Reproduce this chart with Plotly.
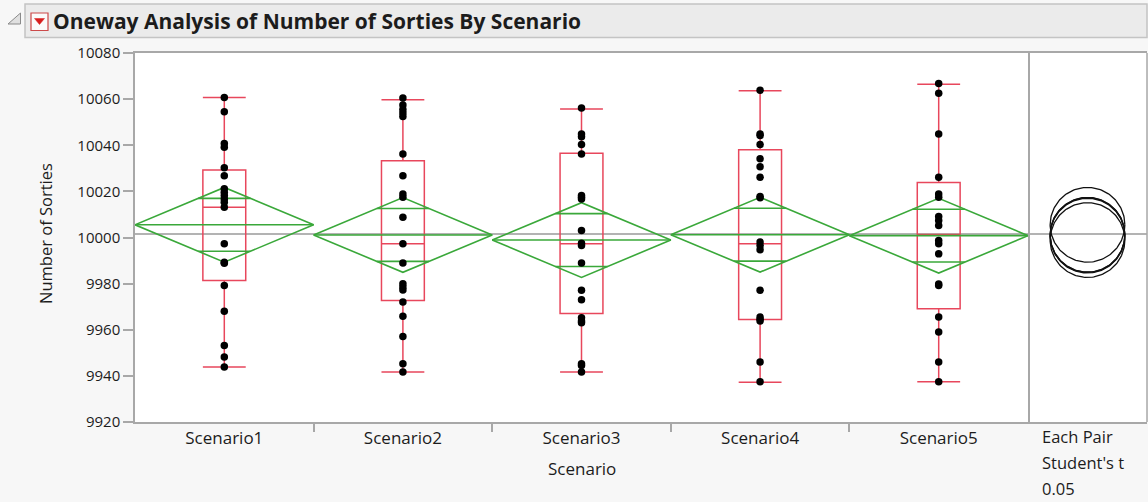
import numpy as np
import plotly.graph_objects as go

# ---------------- data ----------------
categories = ["Scenario1", "Scenario2", "Scenario3", "Scenario4", "Scenario5"]

s1 = [10060.7, 10054.5, 10040.8, 10039.1, 10030.2, 10026.8, 10021.1, 10019.6, 10018.2, 10016.7,
      10015.3, 10013.1, 9997.3, 9989.3, 9988.8, 9979.2, 9968.0, 9953.2, 9948.2, 9943.9]
s2 = [10060.5, 10057.5, 10055.5, 10054.0, 10052.5, 10036.2, 10026.8, 10018.9, 10017.5, 10008.8,
      9997.3, 9988.9, 9980.0, 9978.5, 9977.2, 9972.0, 9965.8, 9957.1, 9945.3, 9941.7]
s3 = [10056.1, 10044.9, 10043.7, 10040.3, 10036.2, 10018.2, 10017.5, 10016.7, 10003.0, 9997.5,
      9996.5, 9988.9, 9977.1, 9973.0, 9965.2, 9963.8, 9963.0, 9945.3, 9944.5, 9941.7]
s4 = [10063.9, 10044.9, 10044.2, 10040.3, 10034.1, 10030.7, 10026.1, 10017.8, 10017.2, 9998.0,
      9996.5, 9994.7, 9977.1, 9965.5, 9964.5, 9963.8, 9946.0, 9937.5]
s5 = [10066.8, 10062.6, 10044.9, 10026.1, 10018.9, 10017.5, 10009.1, 10007.4, 10005.2, 9998.7,
      9997.3, 9992.9, 9979.8, 9979.2, 9965.5, 9959.0, 9946.0, 9937.4]
points = [s1, s2, s3, s4, s5]

box_q1 = [9981.4, 9972.7, 9967.0, 9964.4, 9969.1]
box_median = [10013.1, 9997.3, 9997.3, 9997.3, 10001.3]
box_q3 = [10029.3, 10033.3, 10036.5, 10038.0, 10023.9]
box_lower = [9943.9, 9941.7, 9941.7, 9937.2, 9937.4]
box_upper = [10060.7, 10059.7, 10055.7, 10063.6, 10066.5]

means = [10005.5, 10001.1, 9998.9, 10001.2, 10000.8]
ci_half = [16.2, 16.2, 16.2, 16.2, 16.2]
grand_mean = 10001.5

y_ticks = [9920, 9940, 9960, 9980, 10000, 10020, 10040, 10060, 10080]
panel_labels = ["Each Pair", "Student's t", "0.05"]
title_text = "Oneway Analysis of Number of Sorties By Scenario"
y_title = "Number of Sorties"
x_title = "Scenario"

# ---------------- styling / geometry ----------------
W, H = 1148, 502
L, R, T, B = 135, 1, 53, 80
PW = W - L - R
PH = H - T - B
RED = "#e8475c"
GREEN = "#3aa83a"
GREY = "#a8a8a8"
FONT = "Open Sans"
TXT = "#1c1c1c"
split_px = 1028
dsplit = (split_px - L) / PW


def pxx(px):
    return (px - L) / PW


def pxy(py):
    return (H - B - py) / PH


fig = go.Figure()

# boxes
fig.add_trace(go.Box(
    x=list(range(len(categories))), q1=box_q1, median=box_median, q3=box_q3,
    lowerfence=box_lower, upperfence=box_upper, width=0.24, whiskerwidth=1,
    line=dict(color=RED, width=1.5), fillcolor="rgba(0,0,0,0)", boxpoints=False,
    showlegend=False, hoverinfo="skip", xaxis="x", yaxis="y"))

# mean diamonds
dx, dy = [], []
for i, (m, c) in enumerate(zip(means, ci_half)):
    dx += [i - 0.5, i, i + 0.5, i, i - 0.5, None, i - 0.5, i + 0.5, None]
    dy += [m, m + c, m, m - c, m, None, m, m, None]
    h = c / np.sqrt(2)
    hw = 0.5 * (1 - h / c)
    for s in (1, -1):
        dx += [i - hw, i + hw, None]
        dy += [m + s * h, m + s * h, None]
fig.add_trace(go.Scatter(x=dx, y=dy, mode="lines", line=dict(color=GREEN, width=1.6),
                         showlegend=False, hoverinfo="skip", xaxis="x", yaxis="y"))

# points
for i, vals in enumerate(points):
    fig.add_trace(go.Scatter(x=[i] * len(vals), y=vals, mode="markers",
                             marker=dict(color="black", size=7.5),
                             showlegend=False, xaxis="x", yaxis="y"))

# comparison circles
t = np.linspace(0, 2 * np.pi, 181)
for m, c in zip(means, ci_half):
    fig.add_trace(go.Scatter(x=c * np.cos(t), y=m + c * np.sin(t), mode="lines",
                             line=dict(color="#111111", width=1.3),
                             showlegend=False, hoverinfo="skip", xaxis="x2", yaxis="y"))

panel_half = (W - R - split_px) / 2 / (PH / (y_ticks[-1] - y_ticks[0]))

shapes = [
    # grand mean line
    dict(type="line", xref="paper", yref="y", x0=0, x1=1, y0=grand_mean, y1=grand_mean,
         line=dict(color="#9a9a9a", width=1.5), layer="below"),
    # right border of panel
    dict(type="line", xref="paper", yref="paper", x0=1, x1=1, y0=0, y1=1,
         line=dict(color=GREY, width=1.5)),
    # header bar
    dict(type="rect", xref="paper", yref="paper", x0=pxx(25), x1=pxx(1147), y0=pxy(37.5), y1=pxy(4),
         fillcolor="#ebebeb", line=dict(color="#c4c4c4", width=1.5), layer="below"),
    # disclosure triangle
    dict(type="path", xref="paper", yref="paper",
         path=f"M {pxx(8)},{pxy(24)} L {pxx(20.5)},{pxy(24)} L {pxx(20.5)},{pxy(13)} Z",
         fillcolor="#e0e0e0", line=dict(color="#8a8a8a", width=1)),
    # red hotspot button
    dict(type="rect", xref="paper", yref="paper", x0=pxx(31), x1=pxx(48), y0=pxy(30.5), y1=pxy(13),
         fillcolor="#fbfbfb", line=dict(color="#cc4a4a", width=1.2)),
    dict(type="path", xref="paper", yref="paper",
         path=f"M {pxx(34.5)},{pxy(18.5)} L {pxx(44.5)},{pxy(18.5)} L {pxx(39.5)},{pxy(24.5)} Z",
         fillcolor="#d81e1e", line=dict(color="#d81e1e", width=0.5)),
]

annotations = [
    dict(text=f"<b>{title_text}</b>", xref="paper", yref="paper", x=pxx(51), y=pxy(21),
         xanchor="left", yanchor="middle", showarrow=False,
         font=dict(family=FONT, size=21, color=TXT)),
    dict(text=y_title, xref="paper", yref="paper", x=pxx(45), y=pxy(234), textangle=-90,
         xanchor="center", yanchor="middle", showarrow=False,
         font=dict(family=FONT, size=16.5, color=TXT)),
    dict(text=x_title, xref="paper", yref="paper", x=pxx((L + split_px) / 2), y=pxy(469),
         xanchor="center", yanchor="middle", showarrow=False,
         font=dict(family=FONT, size=17, color=TXT)),
]
for k, lab in enumerate(panel_labels):
    annotations.append(dict(text=lab, xref="paper", yref="paper", x=pxx(1040), y=pxy(437 + 25.5 * k),
                            xanchor="left", yanchor="middle", showarrow=False,
                            font=dict(family=FONT, size=16.5, color=TXT)))

fig.update_layout(
    width=W, height=H,
    margin=dict(l=L, r=R, t=T, b=B, pad=0),
    paper_bgcolor="#f7f7f7", plot_bgcolor="white",
    showlegend=False,
    font=dict(family=FONT, color=TXT),
    xaxis=dict(domain=[0, dsplit], range=[-0.5, len(categories) - 0.5],
               tickvals=list(range(len(categories))), ticktext=categories, ticks="",
               showline=True, mirror=True, linecolor=GREY, linewidth=1.5,
               showgrid=False, zeroline=False, tickfont=dict(size=17, color=TXT),
               minor=dict(tickvals=[i + 0.5 for i in range(len(categories) - 1)],
                          ticks="outside", ticklen=8, tickcolor=GREY, tickwidth=1.5),
               fixedrange=True),
    yaxis=dict(range=[y_ticks[0], y_ticks[-1]], tickvals=y_ticks, tickformat="d",
               ticks="outside", ticklen=10,
               tickcolor=GREY, tickwidth=1.5, showline=True, mirror=True, linecolor=GREY,
               linewidth=1.5, showgrid=False, zeroline=False,
               tickfont=dict(size=15, color=TXT), fixedrange=True),
    xaxis2=dict(domain=[dsplit, 1], range=[-panel_half, panel_half], anchor="y",
                showline=True, mirror=True, linecolor=GREY, linewidth=1.5,
                showticklabels=False, ticks="", showgrid=False, zeroline=False,
                fixedrange=True),
    shapes=shapes,
    annotations=annotations,
)

fig.write_html("out.html", config={"displayModeBar": False},
               post_script="document.body.style.margin='0';document.body.style.overflow='hidden';")
